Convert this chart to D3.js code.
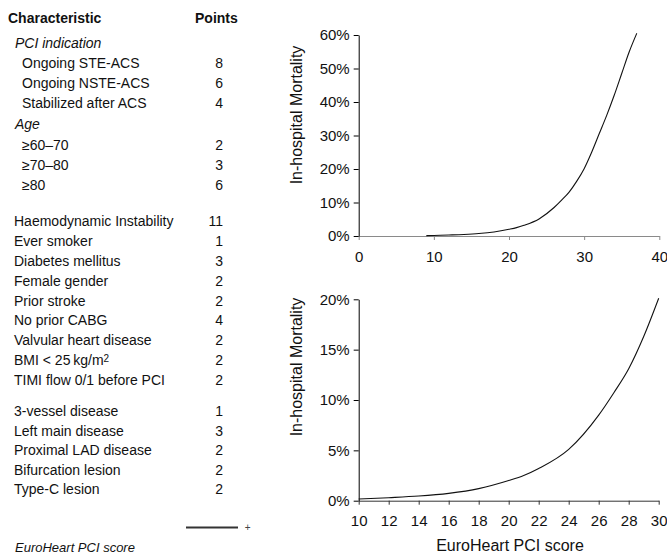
<html>
<head>
<meta charset="utf-8">
<title>EuroHeart PCI score</title>
<script src="https://cdn.jsdelivr.net/npm/d3@7"></script>
<style>
body { margin: 0; background: #fff; }
svg text { font-family: "Liberation Sans", Arial, sans-serif; fill: #111; }
</style>
</head>
<body>
<script>

// ---- data: score table ----
var sectionTitles = ["PCI indication", "Age", null, null];
var sectionItems = [
	["Ongoing STE-ACS", "Ongoing NSTE-ACS", "Stabilized after ACS"],
	["\u226560\u201370", "\u226570\u201380", "\u226580"],
	["Haemodynamic Instability", "Ever smoker", "Diabetes mellitus", "Female gender", "Prior stroke",
	 "No prior CABG", "Valvular heart disease", "BMI < 25\u2009kg/m2", "TIMI flow 0/1 before PCI"],
	["3-vessel disease", "Left main disease", "Proximal LAD disease", "Bifurcation lesion", "Type-C lesion"]
];
var sectionPoints = [
	[8, 6, 4],
	[2, 3, 6],
	[11, 1, 3, 2, 2, 4, 2, 2, 2],
	[1, 3, 2, 2, 2]
];

// ---- data: mortality curve (score -> in-hospital mortality, %) ----
var scores    = [9, 10, 12, 14, 16, 18, 20, 21, 22, 24, 26, 27, 28, 29, 30, 31, 32, 33, 34, 35, 36, 37];
var mortality = [0.1, 0.17, 0.3, 0.46, 0.73, 1.2, 2.0, 2.5, 3.2, 5.1, 8.5, 10.7, 13.1, 16.3, 20.1, 25, 30.5, 36, 42, 48.5, 55, 60.5];

var topXTicks = [0, 10, 20, 30, 40];
var topYTicks = [0, 10, 20, 30, 40, 50, 60];
var botXTicks = [10, 12, 14, 16, 18, 20, 22, 24, 26, 28, 30];
var botYTicks = [0, 5, 10, 15, 20];

var curve = scores.map(function(s, i) { return {score: s, value: mortality[i]}; });

var svg = d3.select("body").append("svg")
	.attr("width", 667)
	.attr("height", 555);

// ---------- left table ----------
var fs = 14;
var table = svg.append("g").style("font-size", fs + "px");

table.append("text").attr("x", 8).attr("y", 18.5).attr("dy", "0.35em")
	.style("font-weight", "bold").text("Characteristic");
table.append("text").attr("x", 195).attr("y", 18.5).attr("dy", "0.35em")
	.style("font-weight", "bold").text("Points");

var sectionStart = [43.5, 124.5, 221.5, 411.5];
var sectionStep = [19.7, 20.2, 19.8, 19.5];

sectionItems.forEach(function(items, s) {
	var y = sectionStart[s];
	var indent = 14;
	if (sectionTitles[s]) {
		table.append("text").attr("x", 15).attr("y", y).attr("dy", "0.35em")
			.style("font-style", "italic").text(sectionTitles[s]);
		y += sectionStep[s];
		indent = 22;
	}
	items.forEach(function(label, i) {
		var yy = y + i * sectionStep[s];
		var t = table.append("text").attr("x", indent).attr("y", yy).attr("dy", "0.35em");
		if (label.slice(-1) === "2" && label.indexOf("kg/m") >= 0) {
			t.append("tspan").text(label.slice(0, -1));
			t.append("tspan").attr("dy", "-0.35em").style("font-size", "10px").text("2");
		} else {
			t.text(label);
		}
		table.append("text").attr("x", 223).attr("y", yy).attr("dy", "0.35em")
			.attr("text-anchor", "end").text(sectionPoints[s][i]);
	});
});

// legend
svg.append("line")
	.attr("x1", 186).attr("x2", 238).attr("y1", 527.5).attr("y2", 527.5)
	.attr("stroke", "#333").attr("stroke-width", 2);
svg.append("text").attr("x", 247.7).attr("y", 527.5).attr("dy", "0.35em")
	.attr("text-anchor", "middle").style("font-size", "10px").style("fill", "#444").text("+");
svg.append("text").attr("x", 15).attr("y", 547).attr("dy", "0.35em")
	.style("font-size", "13px").style("font-style", "italic").text("EuroHeart PCI score");

// ---------- top chart ----------
var x1 = d3.scaleLinear().domain([0, 40]).range([358.7, 659.3]);
var y1 = d3.scaleLinear().domain([0, 60]).range([236, 35]);

var gx1 = svg.append("g").attr("transform", "translate(0,236)")
	.call(d3.axisBottom(x1).tickValues(topXTicks).tickSize(4).tickPadding(11).tickSizeOuter(0));
gx1.select(".domain").attr("stroke", "#8a8a8a");
gx1.selectAll(".tick line").attr("stroke", "#8a8a8a");

var gy1 = svg.append("g").attr("transform", "translate(358.7,0)")
	.call(d3.axisLeft(y1).tickValues(topYTicks).tickFormat(function(d) { return d + "%"; })
		.tickSize(5).tickPadding(4).tickSizeOuter(0));

var line1 = d3.line()
	.x(function(d) { return x1(d.score); })
	.y(function(d) { return y1(d.value); })
	.curve(d3.curveMonotoneX);

svg.append("path").datum(curve)
	.attr("fill", "none").attr("stroke", "#111").attr("stroke-width", 1.1)
	.attr("d", line1);

svg.append("text").attr("transform", "translate(296.5,115) rotate(-90)")
	.attr("text-anchor", "middle").attr("dy", "0.35em")
	.style("font-size", "16px").text("In-hospital Mortality");

// ---------- bottom chart ----------
var x2 = d3.scaleLinear().domain([10, 30]).range([358.7, 658.7]);
var y2 = d3.scaleLinear().domain([0, 20]).range([500.7, 299.3]);

var gx2 = svg.append("g").attr("transform", "translate(0,500.7)")
	.call(d3.axisBottom(x2).tickValues(botXTicks).tickSize(4).tickPadding(11).tickSizeOuter(0));
gx2.select(".domain").attr("stroke", "#333");
gx2.selectAll(".tick line").attr("stroke", "#333");

var gy2 = svg.append("g").attr("transform", "translate(358.7,0)")
	.call(d3.axisLeft(y2).tickValues(botYTicks).tickFormat(function(d) { return d + "%"; })
		.tickSize(5).tickPadding(4).tickSizeOuter(0));

var line2 = d3.line()
	.x(function(d) { return x2(d.score); })
	.y(function(d) { return y2(d.value); })
	.curve(d3.curveMonotoneX);

svg.append("path").datum(curve.filter(function(d) { return d.score >= 10 && d.score <= 30; }))
	.attr("fill", "none").attr("stroke", "#111").attr("stroke-width", 1.1)
	.attr("d", line2);

svg.append("text").attr("transform", "translate(296.5,367) rotate(-90)")
	.attr("text-anchor", "middle").attr("dy", "0.35em")
	.style("font-size", "16px").text("In-hospital Mortality");

svg.append("text").attr("x", 510).attr("y", 545.5).attr("dy", "0.35em")
	.attr("text-anchor", "middle").style("font-size", "16px").text("EuroHeart PCI score");

// axis text styling
svg.selectAll(".tick text")
	.style("font-family", "Liberation Sans, Arial, sans-serif")
	.style("font-size", "15px").style("fill", "#111");

</script>
</body>
</html>
